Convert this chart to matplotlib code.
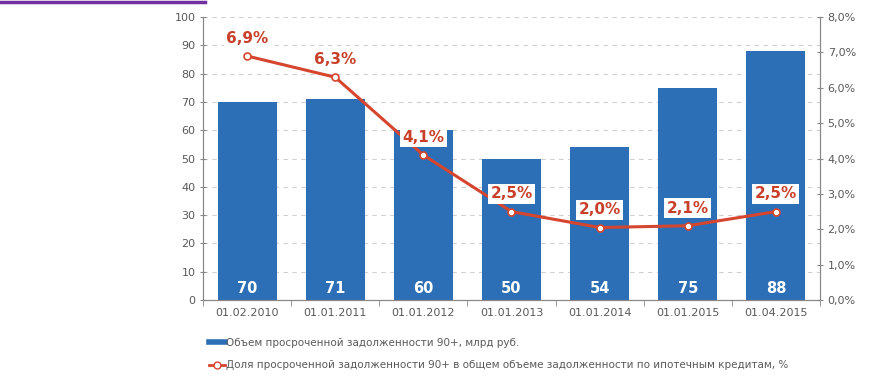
import numpy as np
import matplotlib
matplotlib.use("Agg")
import matplotlib.pyplot as plt
from matplotlib.lines import Line2D

# data
dates = ["01.02.2010", "01.01.2011", "01.01.2012", "01.01.2013",
         "01.01.2014", "01.01.2015", "01.04.2015"]
volume = [70, 71, 60, 50, 54, 75, 88]          # bln rub
share = [6.9, 6.3, 4.1, 2.5, 2.05, 2.1, 2.5]   # %
share_labels = ["6,9%", "6,3%", "4,1%", "2,5%", "2,0%", "2,1%", "2,5%"]

bar_color = "#2c6fb7"
line_color = "#d6452e"
label_red = "#c8402a"
text_gray = "#595959"

fig = plt.figure(figsize=(8.7, 3.8), dpi=100)
ax = fig.add_axes([0.2333, 0.2105, 0.7092, 0.7445])
ax2 = ax.twinx()

x = np.arange(len(dates))
ax.bar(x, volume, width=0.67, color=bar_color, zorder=2)
for xi, v in zip(x, volume):
    ax.text(xi, 4.2, str(v), ha="center", va="center", color="white",
            fontsize=10.5, fontweight="bold", zorder=3)

ax.set_xlim(-0.5, len(dates) - 0.5)
ax.set_ylim(0, 100)
ax.set_yticks(range(0, 101, 10))
ax.yaxis.grid(True, linestyle=(0, (4, 4)), color="#d0d0d0", linewidth=0.8)
ax.set_axisbelow(True)
ax.set_xticks(x)
ax.set_xticklabels(dates)
ax.set_xticks(np.arange(-0.5, len(dates), 1), minor=True)
ax.tick_params(axis="x", which="major", length=0, pad=6, labelsize=8, labelcolor=text_gray)
ax.tick_params(axis="x", which="minor", length=4, direction="out", color="#888888")
ax.tick_params(axis="y", length=4, direction="inout", labelsize=8, labelcolor=text_gray, color="#888888")

ax2.plot(x, share, color=line_color, linewidth=2.2, zorder=4,
         marker="o", markersize=5, markerfacecolor="white",
         markeredgecolor=line_color, markeredgewidth=1.2)
ax2.set_ylim(0, 8)
ax2.set_yticks(range(0, 9))
ax2.set_yticklabels([f"{v},0%" for v in range(0, 9)])
ax2.tick_params(axis="y", length=4, direction="inout", labelsize=8, labelcolor=text_gray, color="#888888")
for xi, s, lab in zip(x, share, share_labels):
    ax2.text(xi, s + 0.5, lab, ha="center", va="center", color=label_red,
             fontsize=11, fontweight="bold", zorder=5,
             bbox=dict(boxstyle="square,pad=0.15", facecolor="white", edgecolor="none"))

for a in (ax, ax2):
    a.spines["top"].set_visible(False)
    for side in ("left", "right", "bottom"):
        a.spines[side].set_color("#888888")
        a.spines[side].set_linewidth(0.8)

# legend below the plot
handles = [
    Line2D([0], [0], color=bar_color, linewidth=4),
    Line2D([0], [0], color=line_color, linewidth=2, marker="o", markersize=5,
           markerfacecolor="white", markeredgecolor=line_color),
]
labels = [
    "Объем просроченной задолженности 90+, млрд руб.",
    "Доля просроченной задолженности 90+ в общем объеме задолженности по ипотечным кредитам, %",
]
fig.legend(handles, labels, loc="upper left", bbox_to_anchor=(0.234, 0.125),
           frameon=False, fontsize=7.5, labelcolor=text_gray, handlelength=1.6,
           handletextpad=0.1, labelspacing=1.2, borderpad=0)

# purple stripe at top-left
fig.add_artist(Line2D([0, 0.236], [0.995, 0.995], color="#7030a0", linewidth=2.5))

fig.savefig("out.png", dpi=100)
